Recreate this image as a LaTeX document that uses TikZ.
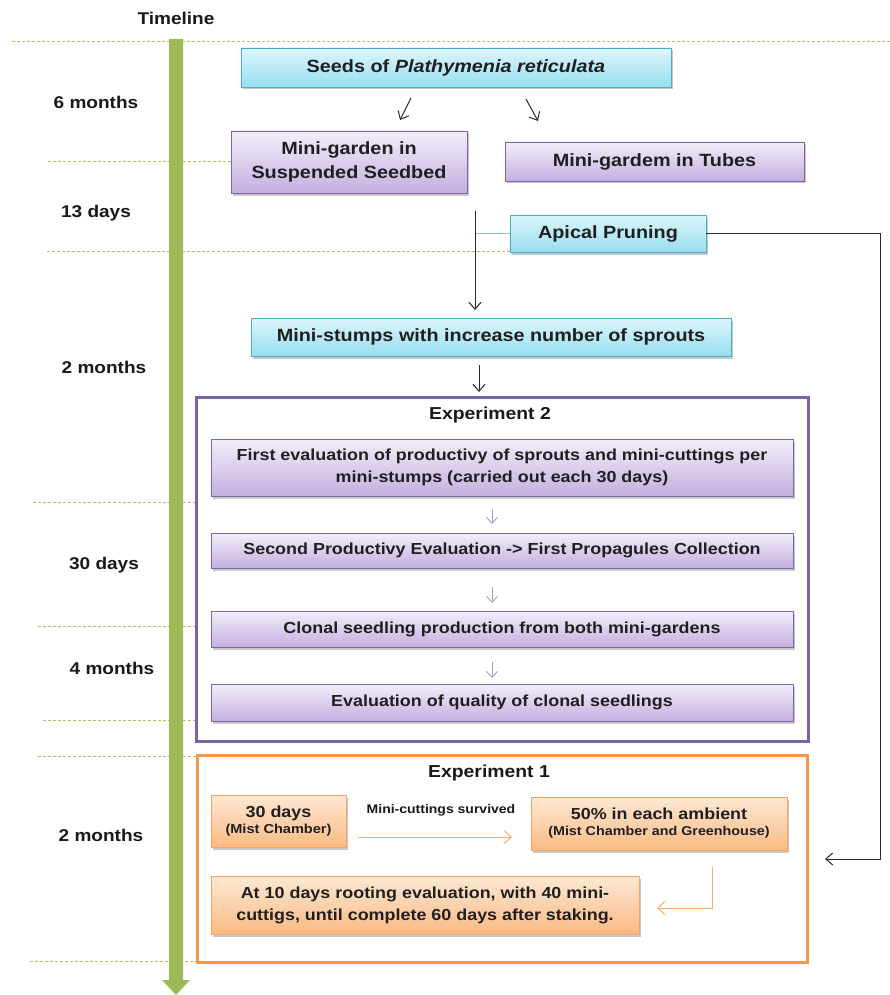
\documentclass[tikz,border=0pt]{standalone}
\usepackage{fontspec}
\setmainfont{Liberation Sans}[FakeStretch=1.12]
\usetikzlibrary{arrows.meta,shadows}
\definecolor{cyanT}{RGB}{222,246,251}
\definecolor{cyanB}{RGB}{150,222,240}
\definecolor{cyanD}{RGB}{75,172,198}
\definecolor{purT}{RGB}{243,238,249}
\definecolor{purB}{RGB}{196,175,224}
\definecolor{purD}{RGB}{128,100,162}
\definecolor{oraT}{RGB}{254,232,212}
\definecolor{oraB}{RGB}{250,186,132}
\definecolor{oraD}{RGB}{244,165,100}
\definecolor{oraF}{RGB}{247,150,70}
\definecolor{frameP}{RGB}{124,98,165}
\definecolor{dashc}{RGB}{188,188,92}
\definecolor{barg}{RGB}{155,187,89}
\definecolor{linec}{RGB}{40,40,40}
\begin{document}
\begin{tikzpicture}[x=1pt,y=-1pt,
  box/.style={draw, line width=0.9pt, inner sep=0pt, outer sep=0pt, align=center, text=black!88,
    drop shadow={shadow xshift=1.5pt,shadow yshift=-2.5pt,opacity=0.3,fill=black!70}},
  cbox/.style={box, draw=cyanD, top color=cyanT, bottom color=cyanB},
  pbox/.style={box, draw=purD, top color=purT, bottom color=purB},
  obox/.style={box, draw=oraD, top color=oraT, bottom color=oraB},
  big/.style={font=\fontsize{17.7}{24}\selectfont\bfseries},
  mid/.style={font=\fontsize{16}{22}\selectfont\bfseries},
  tl/.style={font=\fontsize{17}{20}\selectfont\bfseries, text=black!90},
  frame/.style={line width=3pt, fill=white, inner sep=0pt, outer sep=0pt},
  dl/.style={draw=dashc, line width=0.9pt, dash pattern=on 3pt off 2pt},
  arr/.style={draw=linec, line width=1pt, -{Straight Barb[length=7pt,width=12pt]}},
  parr/.style={draw=purD!65, line width=0.9pt, -{Straight Barb[length=6pt,width=11pt]}},
  oarr/.style={draw=oraF!80, line width=1pt, -{Straight Barb[length=7pt,width=13pt]}}
]
\useasboundingbox (0,0) rectangle (890,995);
\fill[white] (0,0) rectangle (890,995);

% dashed period lines
\draw[dl] (12,41) -- (890,41);
\draw[dl] (48,161) -- (231,161);
\draw[dl] (47,251) -- (510,251);
\draw[dl] (33,502) -- (211,502);
\draw[dl] (38,626) -- (211,626);
\draw[dl] (43,720) -- (211,720);
\draw[dl] (38,756) -- (197,756);
\draw[dl] (30,961) -- (197,961);

% timeline bar
\fill[barg] (169,39) -- (183,39) -- (183,980) -- (190,980) -- (176,995) -- (162,980) -- (169,980) -- cycle;

% timeline labels
\node[tl] (ttl) at (176,18) {Timeline};
\node[tl] (t1) at (96,102) {6 months};
\node[tl] (t2) at (96,213) {13 days};
\node[tl] (t3) at (104,367) {2 months};
\node[tl] (t4) at (104,565) {30 days};
\node[tl] (t5) at (112,668) {4 months};
\node[tl] (t6) at (101,835) {2 months};

% top boxes
\node[cbox, big, minimum width=430pt, minimum height=39pt] (seeds) at (456,67.5) {Seeds of \textit{Plathymenia reticulata}};
\node[pbox, big, minimum width=236pt, minimum height=62pt] (mgs) at (349,162) {Mini-garden in\\Suspended Seedbed};
\node[pbox, big, minimum width=299pt, minimum height=39pt] (mgt) at (654.5,161.5) {Mini-gardem in Tubes};
\node[cbox, big, minimum width=196pt, minimum height=37pt] (apical) at (608,233.5) {Apical Pruning};
\node[cbox, big, minimum width=480pt, minimum height=38pt] (stumps) at (491,337) {Mini-stumps with increase number of sprouts};

% small arrows from seeds
\coordinate (s1a) at (411,98);
\coordinate (s1b) at (400,120);
\coordinate (s2a) at (526,99);
\coordinate (s2b) at (538,121);
\draw[arr] (s1a) -- (s1b);
\draw[arr] (s2a) -- (s2b);

% pruning connectors
\coordinate (vtop) at (475,211);
\draw[draw=cyanD!70, line width=1.4pt] (apical.west) -- (apical.west -| vtop);
\draw[arr, shorten >=8pt] (vtop) -- (vtop |- stumps.north);
\coordinate (fbc) at (880,859);
\coordinate (fb) at (825,859);
\draw[arr] (apical.east) -| (fbc) -- (fb);

% Experiment 2
\node[frame, draw=frameP, minimum width=612pt, minimum height=344pt] (exp2) at (502,569) {};
\node[font=\fontsize{17.3}{20}\selectfont\bfseries, text=black!90] (e2t) at (490,415) {Experiment 2};
\coordinate (sa) at (479,365);
\coordinate (sb) at (479,392);
\draw[arr] (sa) -- (sb);
\node[pbox, mid, minimum width=582pt, minimum height=57pt] (e2a) at (502,467.5) {First evaluation of productivy of sprouts and mini-cuttings per\\mini-stumps (carried out each 30 days)};
\node[pbox, mid, minimum width=582pt, minimum height=35pt] (e2b) at (502,550.5) {Second Productivy Evaluation -> First Propagules Collection};
\node[pbox, mid, minimum width=582pt, minimum height=36pt] (e2c) at (502,629) {Clonal seedling production from both mini-gardens};
\node[pbox, mid, minimum width=582pt, minimum height=37pt] (e2d) at (502,702.5) {Evaluation of quality of clonal seedlings};
\draw[parr] ([xshift=-10pt,yshift=-13pt]e2a.south) -- ([xshift=-10pt,yshift=9pt]e2b.north);
\draw[parr] ([xshift=-10pt,yshift=-19pt]e2b.south) -- ([xshift=-10pt,yshift=8pt]e2c.north);
\draw[parr] ([xshift=-10pt,yshift=-15pt]e2c.south) -- ([xshift=-10pt,yshift=6pt]e2d.north);

% Experiment 1
\node[frame, draw=oraF, minimum width=610pt, minimum height=207pt] (exp1) at (502,858.5) {};
\node[font=\fontsize{17.3}{20}\selectfont\bfseries, text=black!90] (e1t) at (489,773) {Experiment 1};
\node[obox, font=\fontsize{16}{17}\selectfont\bfseries, minimum width=135pt, minimum height=52pt] (d30) at (278.5,821) {30 days\\[-1pt]{\fontsize{13}{14}\selectfont (Mist Chamber)}};
\node[obox, font=\fontsize{16}{17}\selectfont\bfseries, minimum width=256pt, minimum height=53pt] (p50) at (659,823.5) {50\% in each ambient\\[-1pt]{\fontsize{12.8}{14}\selectfont (Mist Chamber and Greenhouse)}};
\node[obox, mid, minimum width=428pt, minimum height=58pt] (at10) at (425,905) {At 10 days rooting evaluation, with 40 mini-\\cuttigs, until complete 60 days after staking.};
\node[font=\fontsize{12.5}{14}\selectfont\bfseries, text=black!90] (lab) at (441,810) {Mini-cuttings survived};
\coordinate (o1) at (358,837);
\coordinate (o2) at (512,837);
\draw[oarr] (o1) -- (o2);
\coordinate (b1) at (712,867);
\coordinate (b2) at (657,908);
\draw[oarr] (b1) |- (b2);
\end{tikzpicture}
\end{document}
